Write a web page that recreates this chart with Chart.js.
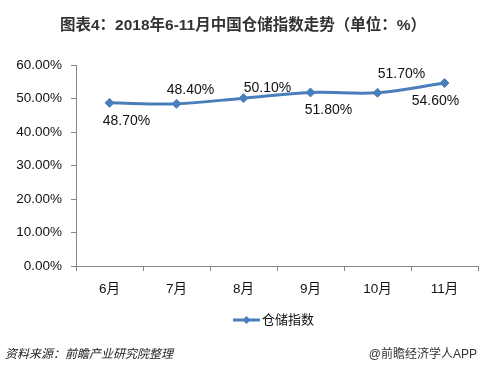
<!DOCTYPE html>
<html><head><meta charset="utf-8">
<script src="https://cdn.jsdelivr.net/npm/chart.js@4/dist/chart.umd.min.js"></script>
<style>
html,body{margin:0;padding:0;background:#fff;}
#wrap{position:relative;width:486px;height:372px;overflow:hidden;}
#c{position:absolute;left:0;top:0;}
.t{position:absolute;white-space:nowrap;font-family:"Liberation Sans","Noto Sans CJK SC",sans-serif;}
#title{left:0;width:486px;top:12px;text-align:center;font-weight:bold;font-size:15.5px;color:#333;}
#src{left:5px;top:344px;font-size:12px;font-style:italic;color:#222;}
#app{right:9px;top:344px;font-size:12px;color:#333;}
</style></head>
<body><div id="wrap">
<canvas id="c" width="486" height="372"></canvas>
<div class="t" id="title">图表4：2018年6-11月中国仓储指数走势（单位：%）</div>
<div class="t" id="src">资料来源：前瞻产业研究院整理</div>
<div class="t" id="app">@前瞻经济学人APP</div>
</div>
<script>
const categories = ["6月","7月","8月","9月","10月","11月"];
const seriesName = "仓储指数";
const values = [48.70, 48.40, 50.10, 51.80, 51.70, 54.60];
const yTicks = [0, 10, 20, 30, 40, 50, 60];

const FONT = '"Liberation Sans","Noto Sans CJK SC",sans-serif';
const BLUE = '#4a7ebb';

const labelPlugin = {
  id: 'ptLabels',
  afterDatasetsDraw(chart, args, opts) {
    const ctx = chart.ctx;
    const meta = chart.getDatasetMeta(0);
    ctx.save();
    ctx.font = '14px ' + FONT;
    ctx.fillStyle = '#111';
    ctx.textAlign = 'center';
    ctx.textBaseline = 'middle';
    meta.data.forEach((pt, i) => {
      const off = opts.offsets[i];
      ctx.fillText(values[i].toFixed(2) + '%', pt.x + off[0], pt.y + off[1]);
    });
    ctx.restore();
  }
};

const legendPlugin = {
  id: 'customLegend',
  afterDraw(chart, args, opts) {
    const ctx = chart.ctx;
    const y = opts.y;
    ctx.save();
    ctx.strokeStyle = BLUE;
    ctx.lineWidth = 3;
    ctx.beginPath();
    ctx.moveTo(opts.x, y);
    ctx.lineTo(opts.x + 27, y);
    ctx.stroke();
    ctx.fillStyle = BLUE;
    const cx = opts.x + 13.5, r = 4;
    ctx.beginPath();
    ctx.moveTo(cx, y - r); ctx.lineTo(cx + r, y); ctx.lineTo(cx, y + r); ctx.lineTo(cx - r, y);
    ctx.closePath(); ctx.fill();
    ctx.font = '13px ' + FONT;
    ctx.fillStyle = '#111';
    ctx.textBaseline = 'middle';
    ctx.fillText(seriesName, opts.x + 29, y);
    ctx.restore();
  }
};

new Chart(document.getElementById('c'), {
  type: 'line',
  data: {
    labels: categories,
    datasets: [{
      label: seriesName,
      data: values,
      borderColor: BLUE,
      backgroundColor: BLUE,
      borderWidth: 3,
      tension: 0.35,
      pointStyle: 'rectRot',
      pointRadius: 4.5,
      pointBackgroundColor: BLUE,
      pointBorderColor: BLUE,
      pointBorderWidth: 1
    }]
  },
  options: {
    responsive: false,
    animation: false,
    layout: { padding: { top: 65, right: 8, left: 0, bottom: 0 } },
    plugins: {
      legend: { display: false },
      title: { display: false },
      tooltip: { enabled: false },
      ptLabels: { offsets: [[17, 18], [14, -14], [24, -10], [18, 18], [24, -19], [-9, 18]] },
      customLegend: { x: 233, y: 320 }
    },
    scales: {
      x: {
        type: 'category',
        offset: true,
        afterFit(s) { s.height = 106; },
        grid: { offset: true, drawOnChartArea: false, drawTicks: true, tickLength: 5, color: '#868686' },
        border: { display: true, color: '#868686', width: 1 },
        ticks: { padding: 10, color: '#111', font: { family: FONT, size: 13.5 }, maxRotation: 0 }
      },
      y: {
        min: 0, max: 60,
        afterFit(s) { s.width = 76; },
        afterBuildTicks(s) { s.ticks = yTicks.map(v => ({ value: v })); },
        grid: { drawOnChartArea: false, drawTicks: true, tickLength: 5, color: '#868686' },
        border: { display: true, color: '#868686', width: 1 },
        ticks: { padding: 9, color: '#111', font: { family: FONT, size: 13.5 },
          callback: v => Number(v).toFixed(2) + '%' }
      }
    }
  },
  plugins: [labelPlugin, legendPlugin]
});
</script>
</body></html>
